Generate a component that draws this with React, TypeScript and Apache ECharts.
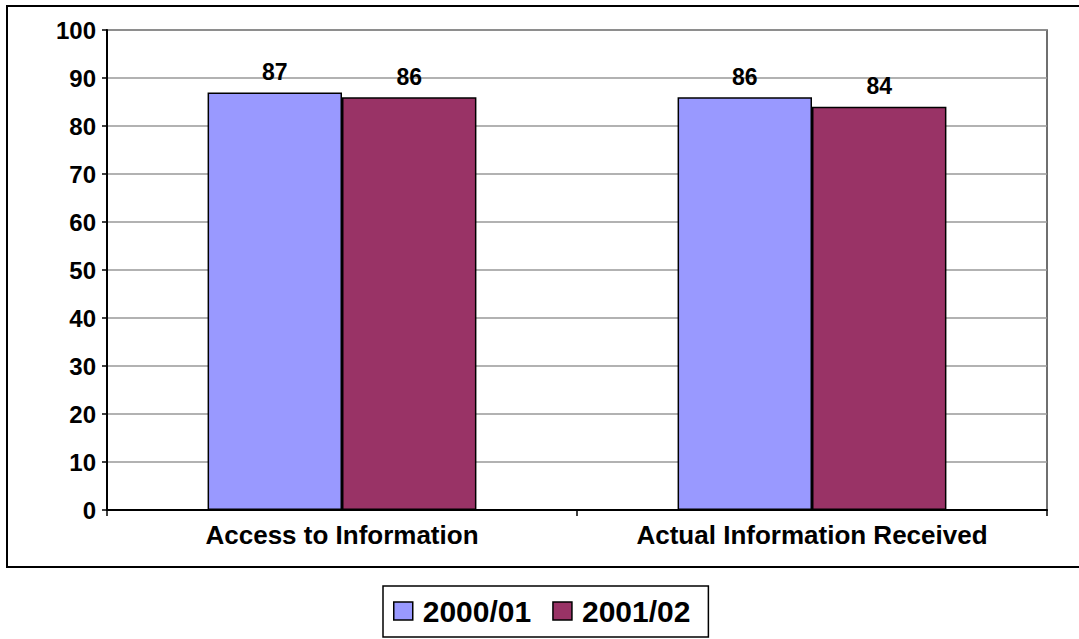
import React, { useEffect, useRef } from "react";
import * as echarts from "echarts";

const categories = ["Access to Information", "Actual Information Received"];
const seriesNames = ["2000/01", "2001/02"];
const values2000 = [87, 86];
const values2001 = [86, 84];
const yTicks = { min: 0, max: 100, interval: 10 };

const FONT = "Arial, 'Liberation Sans', Helvetica, sans-serif";

export default function App() {
  const ref = useRef<HTMLDivElement>(null);

  useEffect(() => {
    if (!ref.current) return;
    const chart = echarts.init(ref.current, undefined, { renderer: "svg" });

    const barSeries = (name: string, data: number[], color: string) => ({
      name,
      type: "bar",
      data,
      barGap: "0%",
      barCategoryGap: "42.8%",
      itemStyle: { color, borderColor: "#000", borderWidth: 1.5 },
      label: {
        show: true,
        position: "top",
        distance: 9,
        color: "#000",
        fontFamily: FONT,
        fontWeight: "bold",
        fontSize: 23,
      },
    });

    chart.setOption({
      animation: false,
      backgroundColor: "#fff",
      textStyle: { fontFamily: FONT },
      graphic: [
        {
          type: "rect",
          shape: { x: 7, y: 6, width: 1090, height: 561 },
          style: { fill: "none", stroke: "#000", lineWidth: 2 },
          silent: true,
          z: -1,
        },
      ],
      legend: {
        data: seriesNames,
        left: 383,
        top: 586,
        orient: "horizontal",
        itemWidth: 19,
        itemHeight: 18,
        itemGap: 21,
        padding: [10, 18, 11, 10],
        borderColor: "#000",
        borderWidth: 1.5,
        icon: "rect",
        itemStyle: { borderColor: "#000", borderWidth: 1.5 },
        textStyle: {
          color: "#000",
          fontFamily: FONT,
          fontWeight: "bold",
          fontSize: 30,
          padding: [0, 0, 0, 5],
        },
      },
      grid: {
        left: 107,
        right: 32,
        top: 30,
        bottom: 129,
        show: true,
        borderColor: "#404040",
        borderWidth: 1.5,
        backgroundColor: "#fff",
      },
      xAxis: {
        type: "category",
        data: categories,
        axisLine: { lineStyle: { color: "#000", width: 2 } },
        axisTick: { show: true, alignWithLabel: false, length: 6, lineStyle: { color: "#000", width: 1.5 } },
        axisLabel: {
          color: "#000",
          fontFamily: FONT,
          fontWeight: "bold",
          fontSize: 26,
          margin: 12,
        },
      },
      yAxis: {
        type: "value",
        min: yTicks.min,
        max: yTicks.max,
        interval: yTicks.interval,
        axisLine: { show: true, lineStyle: { color: "#000", width: 2 } },
        axisTick: { show: true, length: 5, lineStyle: { color: "#000", width: 1.5 } },
        splitLine: { show: true, lineStyle: { color: "#999", width: 1.5 } },
        axisLabel: {
          color: "#000",
          fontFamily: FONT,
          fontWeight: "bold",
          fontSize: 24,
          margin: 11,
        },
      },
      series: [
        barSeries(seriesNames[0], values2000, "#9999FF"),
        barSeries(seriesNames[1], values2001, "#993366"),
      ],
    });

    return () => chart.dispose();
  }, []);

  return (
    <div
      ref={ref}
      style={{ position: "fixed", left: 0, top: 0, width: 1079, height: 639 }}
    />
  );
}
